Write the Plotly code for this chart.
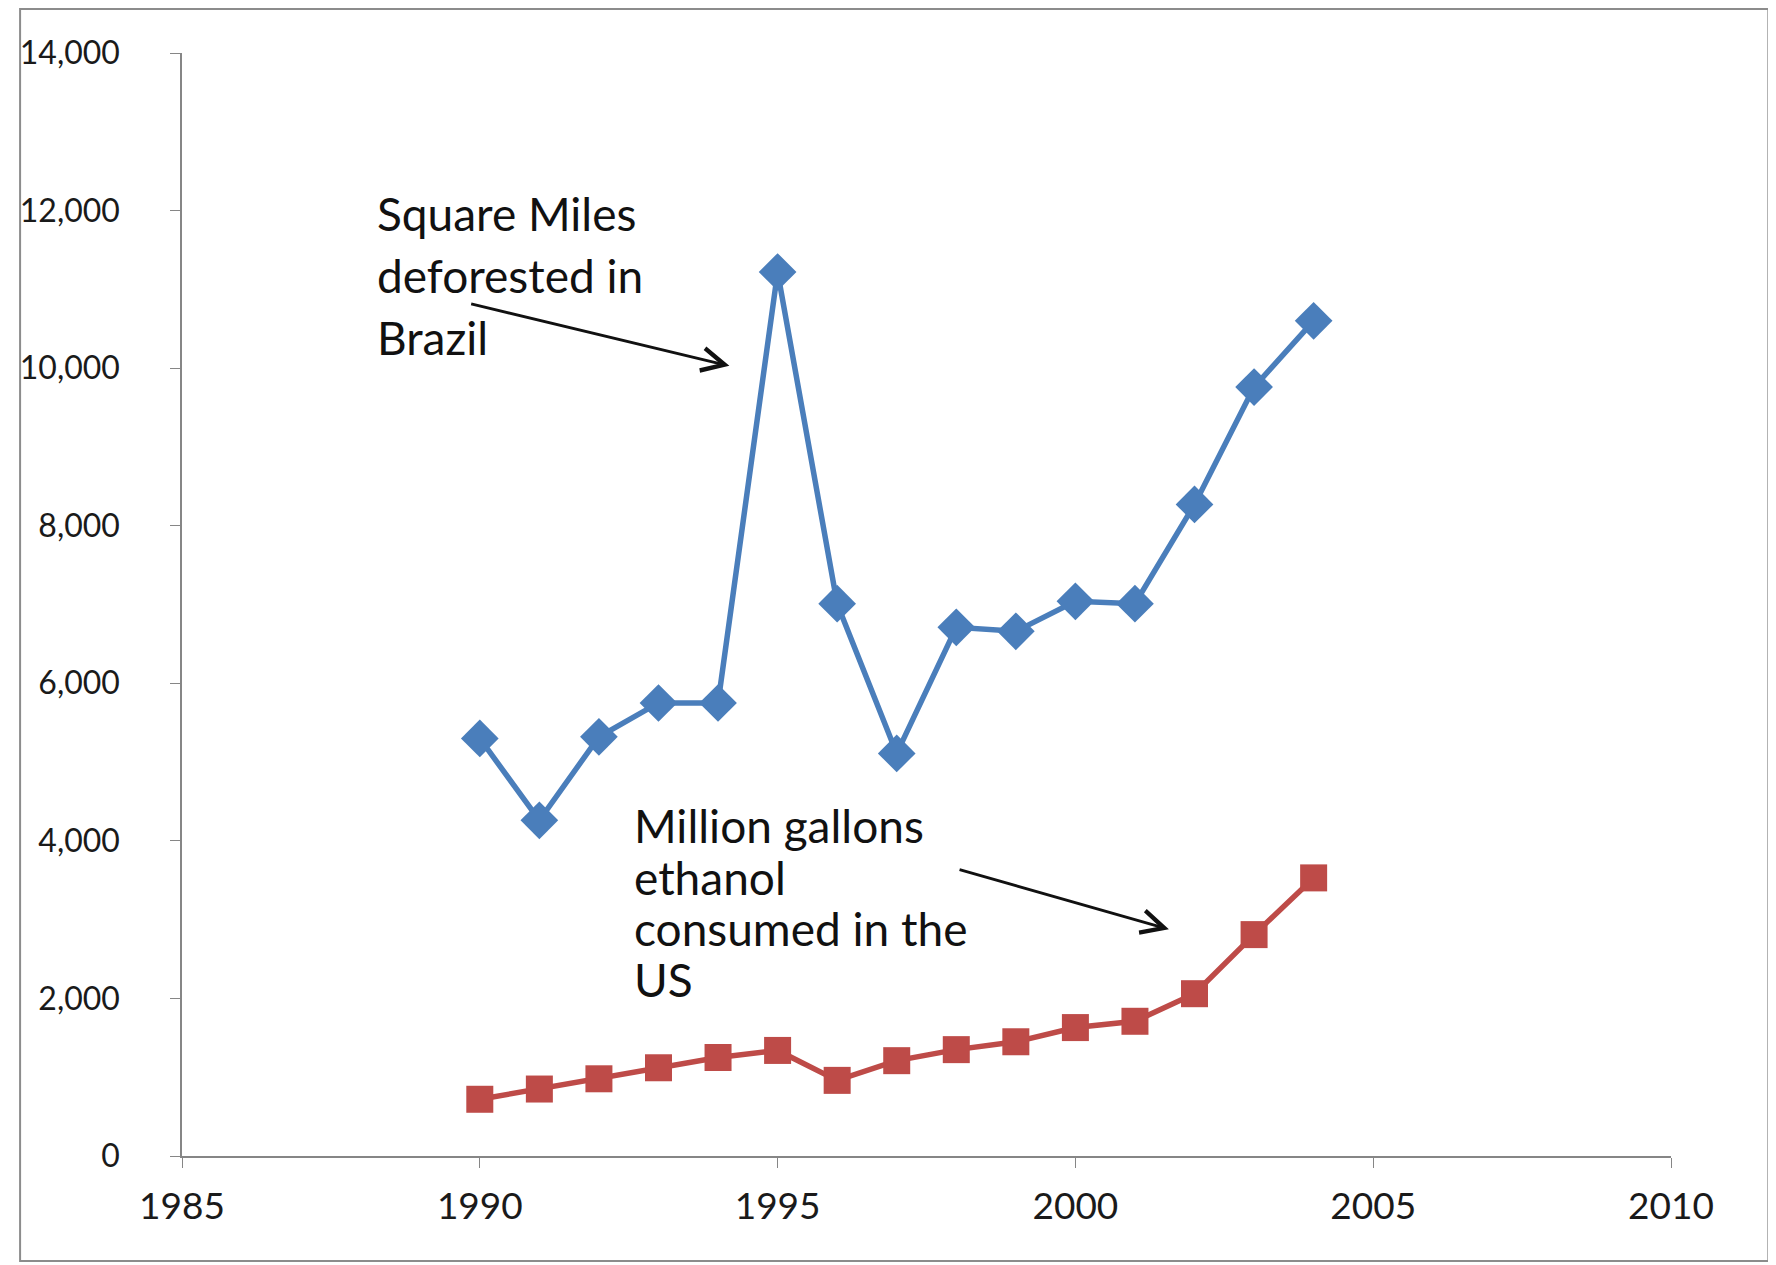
import plotly.graph_objects as go

# ---- data ----
years = [1990, 1991, 1992, 1993, 1994, 1995, 1996, 1997, 1998, 1999, 2000, 2001, 2002, 2003, 2004]
deforested_sq_miles = [5300, 4260, 5320, 5750, 5750, 11220, 7010, 5110, 6710, 6660, 7040, 7010, 8270, 9760, 10600]
ethanol_million_gal = [720, 850, 980, 1120, 1250, 1340, 960, 1210, 1350, 1450, 1630, 1710, 2060, 2810, 3530]
x_ticks = [1985, 1990, 1995, 2000, 2005, 2010]
y_ticks = [0, 2000, 4000, 6000, 8000, 10000, 12000, 14000]
y_tick_labels = ["0", "2,000", "4,000", "6,000", "8,000", "10,000", "12,000", "14,000"]
label_brazil = ["Square Miles", "deforested in", "Brazil"]
label_ethanol = ["Million gallons", "ethanol", "consumed in the", "US"]

W, H = 1776, 1265
OFF = 8  # page body margin
L, R, T, B = 172 - OFF, 105 + OFF, 53 - OFF, 109 + OFF
PW, PH = W - L - R, H - T - B

def px(X):
    return (X - OFF - L) / PW

def py(Y):
    return (H - B - (Y - OFF)) / PH

FONT = "Lato"
BLUE = "#4A7EBB"
RED = "#BE4B48"

fig = go.Figure()
fig.add_trace(go.Scatter(
    x=years, y=deforested_sq_miles, mode="lines+markers",
    line=dict(color=BLUE, width=5.5),
    marker=dict(symbol="diamond", size=29, color=BLUE),
    showlegend=False))
fig.add_trace(go.Scatter(
    x=years, y=ethanol_million_gal, mode="lines+markers",
    line=dict(color=RED, width=5.5),
    marker=dict(symbol="square", size=27, color=RED),
    showlegend=False))

annots = []
for i, s in enumerate(label_brazil):
    annots.append(dict(x=px(366), y=py(213 + i * 62), xref="paper", yref="paper",
                       text=s, showarrow=False, xanchor="left", yanchor="middle",
                       font=dict(family=FONT, size=46, color="#111111")))
for i, s in enumerate(label_ethanol):
    annots.append(dict(x=px(625), y=py(826 + i * 51), xref="paper", yref="paper",
                       text=s, showarrow=False, xanchor="left", yanchor="middle",
                       font=dict(family=FONT, size=46, color="#111111")))
annots.append(dict(x=1994.19, y=10029, ax=1989.83, ay=10820, xref="x", yref="y",
                   axref="x", ayref="y", text="", showarrow=True, arrowhead=5,
                   arrowwidth=2.8, arrowsize=1.6, arrowcolor="#111111"))
annots.append(dict(x=2001.57, y=2878, ax=1998.03, ay=3640, xref="x", yref="y",
                   axref="x", ayref="y", text="", showarrow=True, arrowhead=5,
                   arrowwidth=2.8, arrowsize=1.6, arrowcolor="#111111"))

fig.update_layout(
    width=W, height=H,
    margin=dict(l=L, r=R, t=T, b=B),
    paper_bgcolor="white", plot_bgcolor="white",
    font=dict(family=FONT, size=32, color="#222222"),
    annotations=annots,
    shapes=[dict(type="rect", xref="paper", yref="paper",
                 x0=px(9), x1=px(1769), y0=py(1261), y1=py(9),
                 line=dict(color="#8c8c8c", width=2), layer="below")],
    xaxis=dict(range=[1985, 2010], tickvals=x_ticks, ticktext=[str(v) for v in x_ticks],
               showgrid=False, zeroline=False, showline=True, linecolor="#868686",
               linewidth=1.5, ticks="outside", ticklen=10, tickcolor="#868686",
               ticklabelstandoff=7,
               tickfont=dict(family=FONT, size=37, color="#1a1a1a")),
    yaxis=dict(range=[0, 14000], tickvals=y_ticks, ticktext=y_tick_labels,
               showgrid=False, zeroline=False, showline=True, linecolor="#868686",
               linewidth=1.5, ticks="outside", ticklen=10, tickcolor="#868686",
               ticklabelstandoff=44,
               tickfont=dict(family=FONT, size=32, color="#1a1a1a")),
)

fig.write_html("out.html")
